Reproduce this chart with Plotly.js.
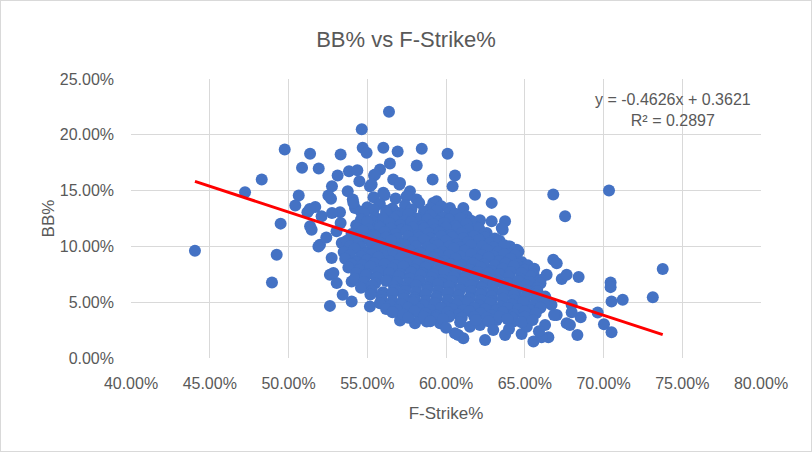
<!DOCTYPE html>
<html>
<head>
<meta charset="utf-8">
<script src="https://cdn.plot.ly/plotly-3.0.1.min.js"></script>
<style>
  body { margin: 0; background: #fff; }
  #chart { width: 812px; height: 452px; box-sizing: border-box; border: 1px solid #d9d9d9; }
</style>
</head>
<body>
<div id="chart"></div>
<script>
// F-Strike% (x) and BB% (y), in percent
// outliers, upper left
const upperLeftX = [54.65,54.71,54.96,49.76,51.37,53.31,50.86,51.92,48.30,47.24,53.12,53.84,54.37,54.50,52.76,52.53,50.65,50.43,49.50,51.37,51.20,51.70,52.10,52.70,53.27,53.76,54.08,54.22,52.76,53.31,54.65,55.17];
const upperLeftY = [20.49,18.84,18.39,18.69,18.30,18.24,17.04,16.98,15.99,14.85,16.35,16.74,16.83,15.84,15.39,14.56,14.56,13.66,12.04,11.80,13.05,13.54,12.70,14.26,13.05,14.94,14.20,13.45,13.00,12.10,12.10,15.39];
// outliers, top
const topX = [56.38,56.02,56.93,58.46,60.10,56.44,58.14,55.81,55.43,60.57,60.42,59.15,61.84,62.90,66.81,67.56,57.04,57.71,56.65,56.02,58.14,59.19,60.25,61.10,62.16,62.90,63.75,61.31,60.46,59.40,55.49,55.28,57.08,59.40,54.12,55.39,70.35];
const topY = [22.07,18.84,18.51,18.75,18.30,17.43,17.25,16.89,16.35,16.35,15.39,15.99,14.62,13.90,14.65,12.70,15.54,14.94,15.99,14.80,14.20,13.90,13.45,13.45,12.34,12.25,12.25,12.70,13.00,13.15,16.44,15.54,15.69,14.05,13.90,13.30,15.00];
// outliers, lower left
const lowerLeftX = [44.06,49.25,48.95,52.63,52.63,53.06,54.01,53.44,54.01,52.74,52.00,51.47,54.75,55.17,51.90,52.40,53.05,51.35,53.38,52.85];
const lowerLeftY = [9.61,9.25,6.77,4.67,7.46,6.71,6.86,5.66,5.06,8.96,10.15,11.50,6.41,4.61,10.00,10.80,11.35,13.36,10.30,7.61];
// edge of the main cloud
const edgeX = [57.08,58.03,58.35,59.62,60.78,61.10,62.48,63.75,64.80,65.55,66.50,66.07,61.52,62.16,63.22,64.28,65.13,66.29,67.03,67.66,66.81,67.03,67.35,66.39,65.55,64.49,63.97,63.60,62.79,56.76,60.25,61.31,62.16,58.77,60.57,63.54,62.58,61.73,64.06,64.60,67.66,66.86,66.70];
const edgeY = [3.35,3.12,3.57,3.12,2.07,1.77,1.62,2.07,2.16,1.47,1.86,1.86,2.81,2.96,3.41,3.26,2.81,2.96,3.86,3.12,8.80,8.50,7.07,7.46,7.61,9.70,10.00,11.50,9.40,4.16,4.01,11.50,10.90,3.26,2.22,11.65,11.20,11.35,10.00,9.55,7.46,3.86,4.76];
// outliers, right
const rightX = [73.76,73.13,71.22,70.51,70.45,70.45,68.42,69.63,70.03,70.51,68.34,68.55,67.98,67.87,67.98];
const rightY = [7.97,5.45,5.21,5.06,6.77,6.35,7.25,4.07,3.03,2.31,2.07,3.66,4.76,2.96,4.10];
// the dense cloud, row by row
const cloudX = [
  55.4,56.1,56.8,57.5,
  55.0,55.8,56.6,57.4,58.3,59.0,59.7,
  54.6,55.4,56.2,57.0,57.8,58.6,59.4,60.2,
  54.8,55.5,56.2,56.9,57.6,58.3,59.0,59.8,60.6,61.3,
  54.6,55.3,56.0,56.7,57.4,58.1,58.8,59.5,60.2,60.9,61.6,
  54.3,55.0,55.7,56.4,57.1,57.8,58.5,59.2,59.9,60.6,61.3,62.0,
  54.4,55.1,55.8,56.5,57.2,57.9,58.6,59.3,60.0,60.7,61.4,62.1,
  54.0,54.7,55.4,56.1,56.8,57.5,58.2,58.9,59.6,60.3,61.0,61.7,62.4,
  54.1,54.8,55.5,56.2,56.9,57.6,58.3,59.0,59.7,60.4,61.1,61.8,62.5,63.1,
  53.7,54.4,55.1,55.8,56.5,57.2,57.9,58.6,59.3,60.0,60.7,61.4,62.1,62.8,63.4,
  53.9,54.6,55.3,56.0,56.7,57.4,58.1,58.8,59.5,60.2,60.9,61.6,62.3,63.0,63.7,
  53.5,54.2,54.9,55.6,56.3,57.0,57.7,58.4,59.1,59.8,60.5,61.2,61.9,62.6,63.3,64.0,
  53.9,54.6,55.3,56.0,56.7,57.4,58.1,58.8,59.5,60.2,60.9,61.6,62.3,63.0,63.7,64.4,
  53.6,54.3,55.0,55.7,56.4,57.1,57.8,58.5,59.2,59.9,60.6,61.3,62.0,62.7,63.4,64.1,64.8,
  54.0,54.7,55.4,56.1,56.8,57.5,58.2,58.9,59.6,60.3,61.0,61.7,62.4,63.1,63.8,64.5,65.2,
  53.8,54.5,55.2,55.9,56.6,57.3,58.0,58.7,59.4,60.1,60.8,61.5,62.2,62.9,63.6,64.3,65.0,65.6,
  54.3,55.0,55.7,56.4,57.1,57.8,58.5,59.2,59.9,60.6,61.3,62.0,62.7,63.4,64.1,64.8,65.5,
  54.2,54.9,55.6,56.3,57.0,57.7,58.4,59.1,59.8,60.5,61.2,61.9,62.6,63.3,64.0,64.7,65.4,66.0,
  54.8,55.5,56.2,56.9,57.6,58.3,59.0,59.7,60.4,61.1,61.8,62.5,63.2,63.9,64.6,65.3,66.0,
  54.6,55.3,56.7,57.4,58.1,58.8,59.5,60.2,60.9,61.6,62.3,63.0,63.7,64.4,65.1,65.8,
  55.3,56.0,56.7,57.4,58.1,58.8,59.5,60.2,60.9,61.6,62.3,63.0,63.7,64.4,65.1,65.8,
  55.2,55.9,56.6,57.3,58.0,58.7,59.4,60.1,60.8,61.5,62.2,62.9,63.6,64.3,65.0,65.7,66.3,
  55.9,56.6,57.3,58.0,58.7,59.4,60.1,60.8,61.5,62.2,62.9,63.6,64.3,65.0,65.7,
  55.8,56.5,57.2,57.9,58.6,59.3,60.0,60.7,61.4,62.1,62.8,63.5,64.2,64.9,65.6,66.2,
  56.2,56.9,57.6,58.3,59.0,59.7,60.4,61.1,61.8,62.5,63.2,63.9,64.6,65.3,66.0,
  56.6,57.3,58.0,58.7,59.4,60.1,60.8,61.5,62.2,62.9,63.6,64.3,65.0,65.7,
  57.6,58.6,59.4,60.2,61.0,61.8,62.6,63.4,64.2,65.0,
  59.0,59.8,60.9,61.9,62.7,63.9,64.8,65.5,
  60.0,63.0,64.0,65.9
];
const cloudY = [
  14.4,14.6,14.3,14.5,
  13.5,13.8,13.4,13.7,13.9,13.4,13.6,
  13.1,13.3,13.2,13.0,13.3,13.1,13.2,13.0,
  12.9,12.6,13.0,12.7,12.9,12.5,12.8,12.6,12.9,12.3,
  12.4,12.3,12.5,12.4,12.3,12.5,12.4,12.2,12.4,12.5,12.3,
  11.9,12.2,11.8,12.1,11.9,12.2,11.8,12.0,12.1,11.8,12.0,11.7,
  11.6,11.5,11.7,11.6,11.5,11.7,11.6,11.5,11.7,11.6,11.5,11.6,
  11.1,11.4,11.0,11.3,11.1,11.4,11.0,11.2,11.3,11.0,11.2,10.9,11.1,
  10.8,10.7,10.9,10.8,10.7,10.9,10.8,10.7,10.9,10.8,10.7,10.9,10.8,10.7,
  10.5,10.2,10.6,10.3,10.5,10.2,10.4,10.6,10.3,10.5,10.2,10.4,10.6,10.3,10.5,
  10.0,9.9,10.1,10.0,9.9,10.1,10.0,9.9,10.1,10.0,9.9,10.1,10.0,9.9,10.1,
  9.5,9.8,9.4,9.7,9.5,9.8,9.6,9.4,9.7,9.5,9.8,9.6,9.4,9.7,9.5,9.3,
  9.2,9.1,9.3,9.2,9.1,9.3,9.2,9.1,9.3,9.2,9.1,9.3,9.2,9.1,9.3,9.2,
  8.9,8.6,8.8,9.0,8.7,8.9,8.6,8.8,9.0,8.7,8.9,8.6,8.8,9.0,8.7,8.9,8.6,
  8.4,8.3,8.5,8.4,8.3,8.5,8.4,8.3,8.5,8.4,8.3,8.5,8.4,8.3,8.5,8.4,8.3,
  8.1,7.9,8.2,7.8,8.0,8.2,7.9,8.1,7.8,8.0,8.2,7.9,8.1,7.8,8.0,8.2,7.9,8.0,
  7.6,7.5,7.7,7.6,7.5,7.7,7.6,7.5,7.7,7.6,7.5,7.7,7.6,7.5,7.7,7.6,7.5,
  7.1,7.4,7.2,7.0,7.3,7.1,7.4,7.2,7.0,7.3,7.1,7.4,7.2,7.0,7.3,7.1,7.3,7.0,
  6.8,6.7,6.9,6.8,6.7,6.9,6.8,6.7,6.9,6.8,6.7,6.9,6.8,6.7,6.9,6.8,6.7,
  6.3,6.5,6.4,6.2,6.5,6.3,6.6,6.4,6.2,6.5,6.3,6.6,6.4,6.2,6.5,6.3,
  6.0,5.9,6.1,6.0,5.9,6.1,6.0,5.9,6.1,6.0,5.9,6.1,6.0,5.9,6.1,6.0,
  5.7,5.5,5.8,5.6,5.4,5.7,5.5,5.8,5.6,5.4,5.7,5.5,5.8,5.6,5.4,5.7,5.5,
  5.2,5.1,5.3,5.2,5.1,5.3,5.2,5.1,5.3,5.2,5.1,5.3,5.2,5.1,5.3,
  4.9,4.7,4.8,5.0,4.7,4.9,4.6,4.8,5.0,4.7,4.9,4.6,4.8,5.0,4.7,4.9,
  4.4,4.3,4.5,4.4,4.3,4.5,4.4,4.3,4.5,4.4,4.3,4.5,4.4,4.3,4.5,
  4.1,3.9,4.2,4.0,3.8,4.1,3.9,4.2,4.0,3.8,4.1,3.9,4.2,4.0,
  3.6,3.7,3.6,3.7,3.6,3.7,3.6,3.7,3.6,3.7,
  3.3,3.5,3.2,3.4,3.3,3.5,3.2,3.4,
  2.7,2.5,2.6,2.4
];

// Excel linear trendline as printed on the chart (fractions)
const slope = -0.4626;
const intercept = 0.3621;
const rSquared = 0.2897;

const fStrike = [].concat(upperLeftX, topX, lowerLeftX, edgeX, rightX, cloudX);
const bbPct = [].concat(upperLeftY, topY, lowerLeftY, edgeY, rightY, cloudY);

const xMin = Math.min(...fStrike), xMax = Math.max(...fStrike);
const lineX = [xMin, xMax];
const lineY = lineX.map(x => (slope * x / 100 + intercept) * 100);

const font = "'Liberation Sans', Arial, sans-serif";
const grey = "#595959";

const points = {
    type: "scatter", mode: "markers",
    x: fStrike, y: bbPct,
    marker: { color: "#4472C4", size: 12, line: { width: 0 } },
    hoverinfo: "x+y"
};
const trend = {
    type: "scatter", mode: "lines",
    x: lineX, y: lineY,
    line: { color: "#FF0000", width: 3 },
    hoverinfo: "skip"
};

const axisCommon = {
    showgrid: true, gridcolor: "#d9d9d9", gridwidth: 1,
    zeroline: false, showline: false, ticks: "",
    ticksuffix: "%", tickformat: ".2f",
    tickfont: { family: font, size: 16, color: grey }
};

const layout = {
    width: 810, height: 450,
    margin: { l: 130, r: 50, t: 78, b: 93 },
    paper_bgcolor: "#fff", plot_bgcolor: "#fff",
    showlegend: false,
    font: { family: font, color: grey },
    title: { text: "BB% vs F-Strike%", font: { family: font, size: 22, color: grey }, x: 0.5, y: 0.915, yanchor: "middle" },
    xaxis: Object.assign({}, axisCommon, {
        range: [40, 80], dtick: 5, tick0: 40, ticklabelstandoff: 14,
        title: { text: "F-Strike%", font: { family: font, size: 17, color: grey } }
    }),
    yaxis: Object.assign({}, axisCommon, {
        range: [0, 25], dtick: 5, tick0: 0, ticklabelstandoff: 16,
        title: { text: "BB%", font: { family: font, size: 17, color: grey } }
    }),
    annotations: [{
        x: 74.4, y: 22.2, xref: "x", yref: "y",
        text: "y = -0.4626x + 0.3621<br>R² = " + rSquared.toFixed(4),
        showarrow: false, align: "center", xanchor: "center", yanchor: "middle",
        font: { family: font, size: 16, color: grey }
    }]
};

Plotly.newPlot("chart", [points, trend], layout, { displayModeBar: false, staticPlot: true });
</script>
</body>
</html>
